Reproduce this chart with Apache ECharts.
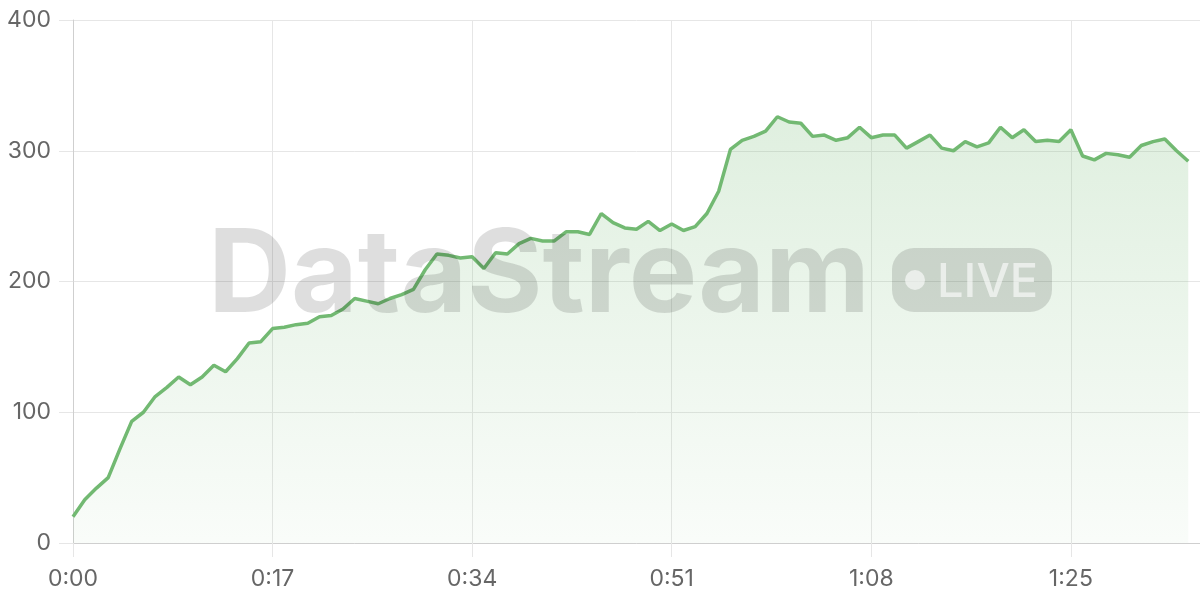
<!DOCTYPE html>
<html>
<head>
<meta charset="utf-8">
<script src="https://cdn.jsdelivr.net/npm/echarts@6/dist/echarts.min.js"></script>
<style>
html,body{margin:0;padding:0;background:#fff;}
#chart{width:1200px;height:600px;}
</style>
</head>
<body>
<div id="chart"></div>
<script>
// seconds elapsed (0..95)
const seconds = Array.from({length: 96}, (_, i) => i);
// series values
const values = [
  20, 33, 42, 50, 72, 93, 100, 112, 119, 127,
  121, 127, 136, 131, 141, 153, 154, 164, 165, 167,
  168, 173, 174, 179, 187, 185, 183, 187, 190, 194,
  209, 221, 220, 218, 219, 210, 222, 221, 229, 233,
  231, 231, 238, 238, 236, 252, 245, 241, 240, 246,
  239, 244, 239, 242, 252, 269, 301, 308, 311, 315,
  326, 322, 321, 311, 312, 308, 310, 318, 310, 312,
  312, 302, 307, 312, 302, 300, 307, 303, 306, 318,
  310, 316, 307, 308, 307, 316, 296, 293, 298, 297,
  295, 304, 307, 309, 300, 292
];
const yTicks = [0, 100, 200, 300, 400];
const xTickStep = 17;

function fmt(s){
  const m = Math.floor(s/60), r = Math.round(s%60);
  return m + ':' + (r < 10 ? '0' : '') + r;
}

const chart = echarts.init(document.getElementById('chart'), null, {renderer:'canvas'});
const green = '#72b972';
chart.setOption({
  animation:false,
  backgroundColor:'#fff',
  grid:{left:73, right:0, top:20, bottom:57, containLabel:false},
  xAxis:{
    type:'value', min:0, max:96, interval:xTickStep,
    axisLine:{show:true, onZero:false, lineStyle:{color:'#cfcfcf', width:1}},
    axisTick:{show:true, length:14, lineStyle:{color:'#e6e6e6'}},
    splitLine:{show:true, lineStyle:{color:'#e6e6e6', width:1}},
    axisLabel:{formatter:v=>fmt(v), color:'#666', fontSize:23, fontFamily:'Inter', margin:25, showMaxLabel:false}
  },
  yAxis:{
    type:'value', min:yTicks[0], max:yTicks[yTicks.length-1], interval:100,
    axisLine:{show:true, lineStyle:{color:'#cfcfcf', width:1}},
    axisTick:{show:true, length:14, lineStyle:{color:'#e6e6e6'}},
    splitLine:{show:true, lineStyle:{color:'#e6e6e6', width:1}},
    axisLabel:{color:'#666', fontSize:23, fontFamily:'Inter', margin:22}
  },
  series:[{
    type:'line',
    data: seconds.map((s,i)=>[s, values[i]]),
    showSymbol:false,
    symbol:'none',
    lineStyle:{color:green, width:3.5},
    itemStyle:{color:green},
    areaStyle:{
      color:new echarts.graphic.LinearGradient(0,0,0,1,[
        {offset:0, color:'rgba(114,185,114,0.32)'},
        {offset:1, color:'rgba(114,185,114,0.06)'}
      ])
    },
    z:2
  }],
  graphic:[
    {type:'text', left:208, top:220, z:100,
     style:{text:'DataStream', font:'bold 115px Inter', fill:'rgba(0,0,0,0.13)'}},
    {type:'rect', z:100, shape:{x:892, y:248, width:160, height:64, r:22},
     style:{fill:'rgba(0,0,0,0.13)'}},
    {type:'circle', z:101, shape:{cx:915, cy:280, r:10},
     style:{fill:'rgba(255,255,255,0.6)'}},
    {type:'text', z:101, left:937, top:259,
     style:{text:'LIVE', font:'500 47px Inter', fill:'rgba(255,255,255,0.6)'}}
  ]
});
</script>
</body>
</html>
